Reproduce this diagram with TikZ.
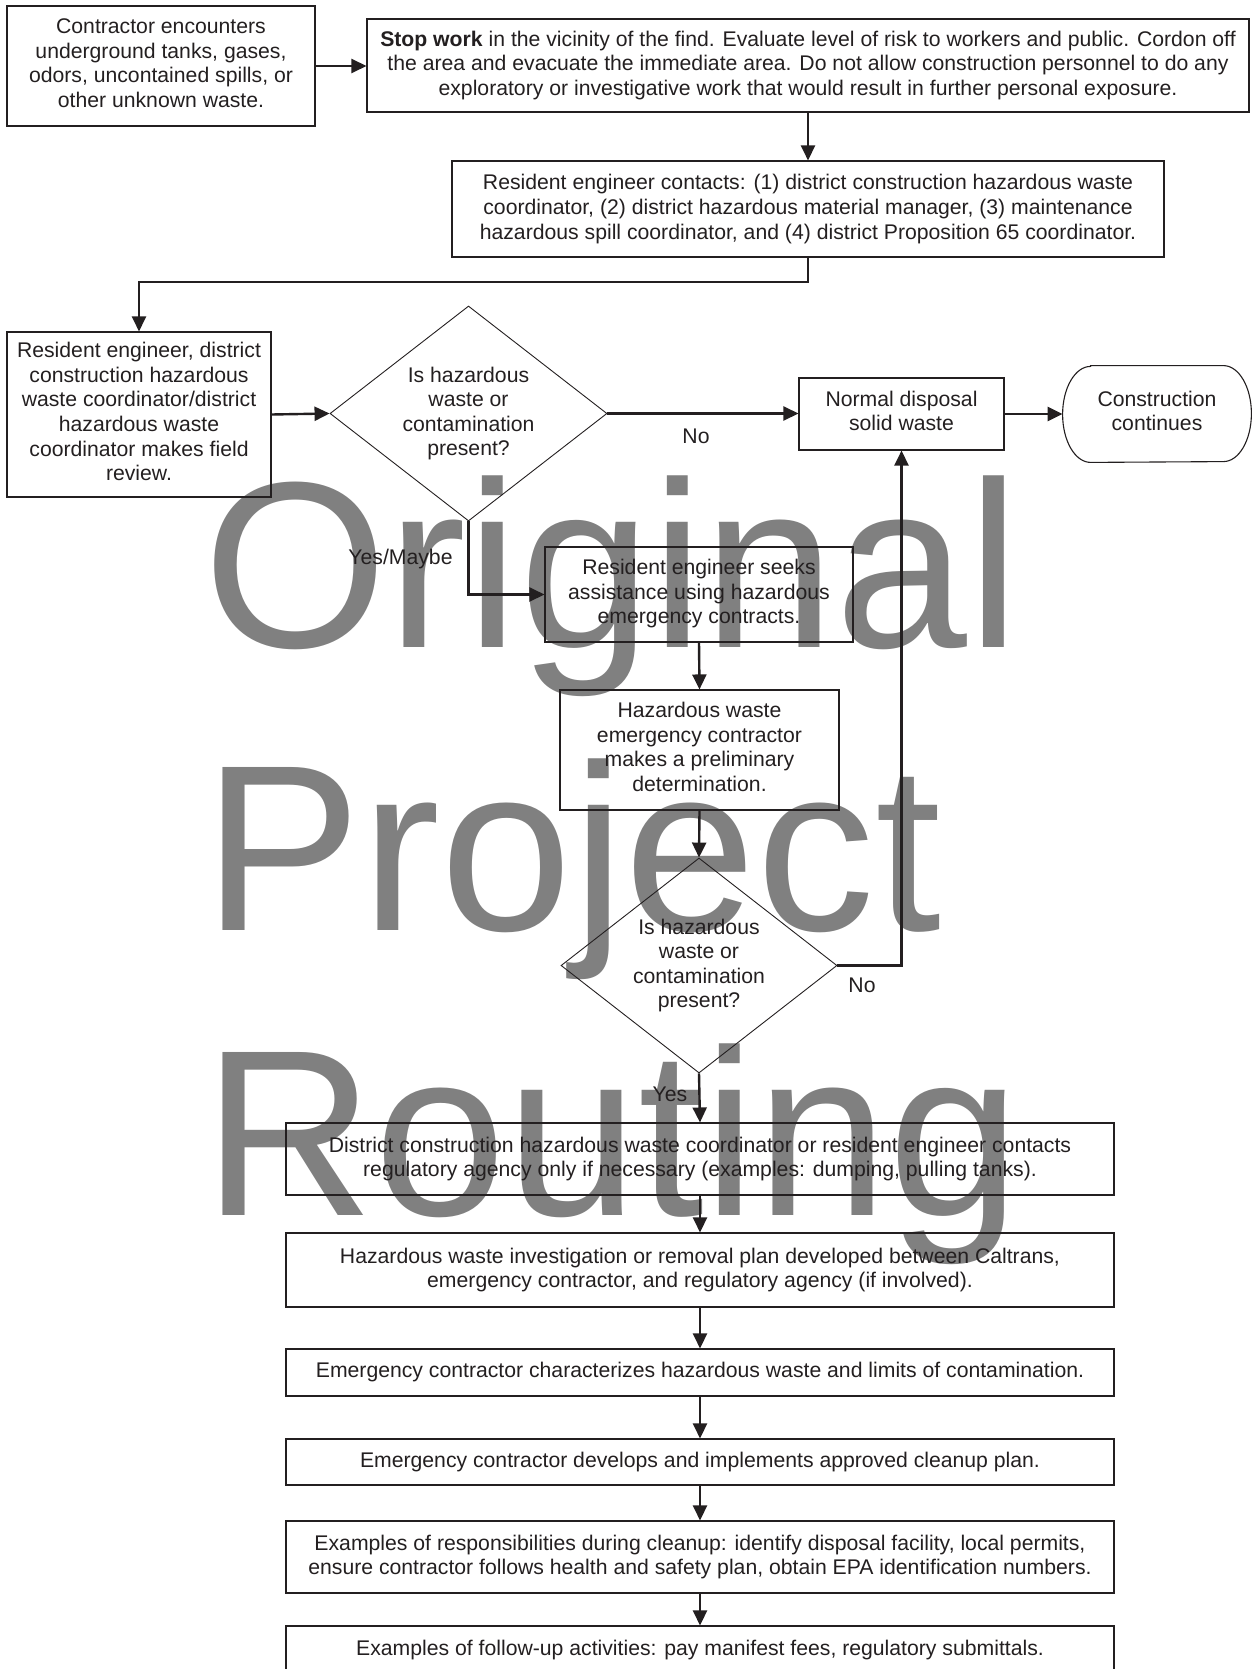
\documentclass[tikz,border=0pt]{standalone}
\usepackage{fontspec}
\setmainfont{Liberation Sans}
\usetikzlibrary{arrows.meta,shapes.geometric}
\definecolor{ink}{RGB}{35,31,32}
\definecolor{wmgray}{RGB}{128,128,128}
\begin{document}
\begin{tikzpicture}[x=0.5pt,y=-0.5pt,
  txt/.style={inner sep=0pt,align=center,text=ink,font=\fontsize{10.6}{12.3}\selectfont},
  box/.style={txt,draw=ink,line width=0.55pt},
  raised/.style={text depth=3pt},
  wide/.style={box,minimum width=414pt},
  decision/.style={txt,draw=ink,line width=0.45pt,shape=diamond,aspect=1.29},
  lbl/.style={txt},
  arr/.style={draw=ink,line width=1.2pt,-{Triangle[length=7.5pt,width=7pt]}},
  bigword/.style={inner sep=0pt,anchor=base west,text=wmgray,font=\fontsize{118.5}{142}\selectfont}]
\useasboundingbox (0,0) rectangle (1252,1669);
\clip (0,0) rectangle (1252,1669);

% background lettering
\node[bigword] (wm1) at (203,647) {Original};
\node[bigword] (wm2) at (203,930) {Project};
\node[bigword] (wm3) at (203,1215) {Routing};

% upper part of the chart
\node[box,raised,minimum width=154pt,minimum height=60pt] (A) at (161,66)
  {Contractor encounters\\underground tanks, gases,\\odors, uncontained spills, or\\other unknown waste.};
\node[box,minimum width=441pt,minimum height=46.5pt] (B) at (808,65.5)
  {\textbf{Stop work} in the vicinity of the find. Evaluate level of risk to workers and public. Cordon off\\the area and evacuate the immediate area. Do not allow construction personnel to do any\\exploratory or investigative work that would result in further personal exposure.};
\node[box,minimum width=356pt,minimum height=48pt] (C) at (808,209)
  {Resident engineer contacts: (1) district construction hazardous waste\\coordinator, (2) district hazardous material manager, (3) maintenance\\hazardous spill coordinator, and (4) district Proposition 65 coordinator.};
\node[box,raised,minimum width=132pt,minimum height=82.5pt] (D) at (139,414.5)
  {Resident engineer, district\\construction hazardous\\waste coordinator/district\\hazardous waste\\coordinator makes field\\review.};
\node[decision,minimum width=138.5pt,minimum height=107.5pt] (Q1) at (468.5,413.5)
  {Is hazardous\\waste or\\contamination\\present?};
\node[box,raised,minimum width=102.5pt,minimum height=36pt] (N) at (901.5,414)
  {Normal disposal\\solid waste};
\node[txt,raised,minimum width=94pt,minimum height=48pt] (CC) at (1157,414)
  {Construction\\continues};
\draw[ink,line width=0.55pt]
  ([xshift=14pt]CC.north west) -- ([xshift=-14pt]CC.north east)
  arc[start angle=90,end angle=-90,x radius=14pt,y radius=24pt]
  -- ([xshift=14pt]CC.south west)
  arc[start angle=270,end angle=90,x radius=14pt,y radius=24pt] -- cycle;

% middle part
\node[box,raised,minimum width=154pt,minimum height=47.5pt] (E) at (699,594.5)
  {Resident engineer seeks\\assistance using hazardous\\emergency contracts.};
\node[box,raised,minimum width=139.5pt,minimum height=60pt] (F) at (699.5,750)
  {Hazardous waste\\emergency contractor\\makes a preliminary\\determination.};
\node[decision,minimum width=138pt,minimum height=107.5pt] (Q2) at (699,965.5)
  {Is hazardous\\waste or\\contamination\\present?};

% lower chain
\node[wide,minimum height=36pt] (G) at (700,1159)
  {District construction hazardous waste coordinator or resident engineer contacts\\regulatory agency only if necessary (examples: dumping, pulling tanks).};
\node[wide,minimum height=37pt] (H) at (700,1270)
  {Hazardous waste investigation or removal plan developed between Caltrans,\\emergency contractor, and regulatory agency (if involved).};
\node[wide,minimum height=23.5pt] (I) at (700,1372.5)
  {Emergency contractor characterizes hazardous waste and limits of contamination.};
\node[wide,minimum height=23pt] (J) at (700,1462)
  {Emergency contractor develops and implements approved cleanup plan.};
\node[wide,minimum height=36pt] (K) at (700,1557)
  {Examples of responsibilities during cleanup: identify disposal facility, local permits,\\ensure contractor follows health and safety plan, obtain EPA identification numbers.};
\node[wide,minimum height=24pt] (L) at (700,1650)
  {Examples of follow-up activities: pay manifest fees, regulatory submittals.};

% branch labels
\node[lbl] (no1) at (696,436) {No};
\node[lbl] (yesmaybe) at (400.5,559) {Yes/Maybe};
\node[lbl] (no2) at (862,985) {No};
\node[lbl] (yes) at (670,1094) {Yes};

% connectors
\coordinate (k1) at (808,282);
\draw[arr] (A.east) -- (A.east -| B.west);
\draw[arr] (B.south) -- (C.north);
\draw[arr] (C.south) -- (k1) -| (D.north);
\draw[arr] (D.east) -- (Q1.west);
\draw[arr] (Q1.east) -- (Q1.east -| N.west);
\draw[arr] (N.east) -- (N.east -| CC.west);
\draw[arr] (Q1.south) |- (E.west);
\draw[arr] (E.south) -- (F.north);
\draw[arr] (F.south) -- (Q2.north);
\draw[arr] (Q2.east) -| (N.south);
\draw[arr] (Q2.south) -- (G.north);
\draw[arr] (G.south) -- (H.north);
\draw[arr] (H.south) -- (I.north);
\draw[arr] (I.south) -- (J.north);
\draw[arr] (J.south) -- (K.north);
\draw[arr] (K.south) -- (L.north);
\end{tikzpicture}
\end{document}
